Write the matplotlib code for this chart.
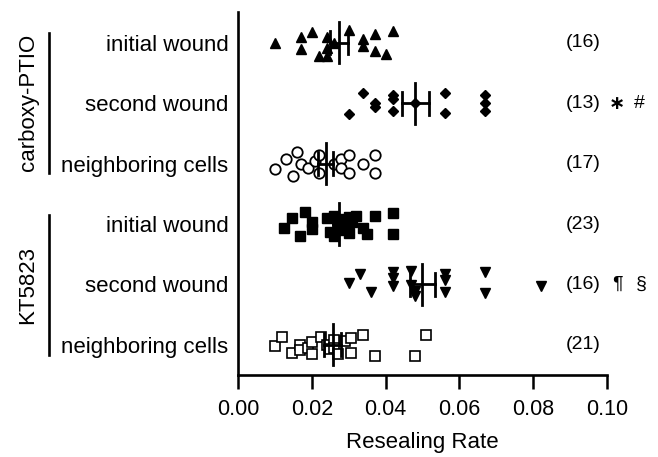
import numpy as np
import matplotlib.pyplot as plt
from matplotlib.transforms import blended_transform_factory

plt.rcParams['font.family'] = ['Liberation Sans', 'DejaVu Sans']

row_labels = ['initial wound', 'second wound', 'neighboring cells',
              'initial wound', 'second wound', 'neighboring cells']
groups = ['carboxy-PTIO', 'KT5823']

# resealing rates, one list per row
cp_initial = [0.010, 0.017, 0.017, 0.020, 0.022, 0.024, 0.024, 0.024,
              0.026, 0.030, 0.034, 0.034, 0.037, 0.037, 0.040, 0.042]
cp_second = [0.030, 0.034, 0.037, 0.037, 0.042, 0.042, 0.042, 0.048,
             0.056, 0.056, 0.067, 0.067, 0.067]
cp_neigh = [0.010, 0.013, 0.015, 0.016, 0.017, 0.019, 0.021, 0.022, 0.022,
            0.026, 0.028, 0.028, 0.030, 0.030, 0.034, 0.037, 0.037]
kt_initial = [0.0125, 0.0146, 0.0167, 0.0182, 0.020, 0.020, 0.024, 0.025,
              0.026, 0.026, 0.027, 0.028, 0.028, 0.029, 0.030, 0.030,
              0.031, 0.032, 0.034, 0.035, 0.037, 0.042, 0.042]
kt_second = [0.030, 0.033, 0.036, 0.042, 0.042, 0.042, 0.047, 0.047,
             0.048, 0.048, 0.056, 0.056, 0.056, 0.067, 0.067, 0.082]
kt_neigh = [0.010, 0.012, 0.0146, 0.0167, 0.0167, 0.019, 0.020, 0.020,
            0.0224, 0.024, 0.025, 0.026, 0.026, 0.027, 0.029, 0.0305,
            0.0305, 0.034, 0.037, 0.048, 0.051]

# vertical scatter of each point (pixels in the original)
cp_initial_j = [0, -6, 6, -11, 13, -6, 5, 13, 0, -13, -4, 3, -9, 8, 11, -12]
cp_second_j = [11, -10, 0, 4, -8, -4, 8, 0, -10, 10, -8, 0, 8]
cp_neigh_j = [5, -5, 12, -12, 0, 4, -3, -9, 9, 0, -5, 4, -9, 9, 0, -9, 9]
kt_initial_j = [4, -6, 12, -12, -2, 5, -6, 8, -8, 12, 0, -5, 6, 2, -7, 9,
                -2, -8, 4, 10, -8, -11, 10]
kt_second_j = [-1, -10, 8, -12, -6, 2, -13, 1, 7, 12, -10, -4, 8, -12, 9, 2]
kt_neigh_j = [1, -8, 8, 0, 5, 3, -3, 9, -8, 0, 4, -5, 3, 9, -4, -7, 8, -10,
              11, 11, -10]

data = [cp_initial, cp_second, cp_neigh, kt_initial, kt_second, kt_neigh]
jitter = [cp_initial_j, cp_second_j, cp_neigh_j,
          kt_initial_j, kt_second_j, kt_neigh_j]
styles = [dict(marker='^', ms=6.5, mfc='black', mec='black'),
          dict(marker='D', ms=5, mfc='black', mec='black'),
          dict(marker='o', ms=7.5, mfc='white', mec='black', mew=1.3),
          dict(marker='s', ms=7, mfc='black', mec='black'),
          dict(marker='v', ms=6.5, mfc='black', mec='black'),
          dict(marker='s', ms=7, mfc='white', mec='black', mew=1.2)]

fig = plt.figure(figsize=(6.58, 4.57), dpi=100)
ax = fig.add_axes([238 / 658, 1 - 375 / 457, 369 / 658, 363 / 457])

row_px = 60.4
for i, (vals, jit, st) in enumerate(zip(data, jitter, styles)):
    vals = np.array(vals)
    y = i + np.array(jit) / row_px
    ax.plot(vals, y, ls='none', zorder=3, **st)
    m = vals.mean()
    sem = vals.std(ddof=1) / np.sqrt(len(vals))
    ax.plot([m, m], [i - 0.34, i + 0.34], color='black', lw=2, zorder=4)
    ax.plot([m - sem, m + sem], [i, i], color='black', lw=2, zorder=4)
    for e in (m - sem, m + sem):
        ax.plot([e, e], [i - 0.19, i + 0.19], color='black', lw=2, zorder=4)
    ax.text(0.0935, i, '(%d)' % len(vals), ha='center', va='center',
            fontsize=14, clip_on=False)

ax.text(0.1027, 1, '\u2217', ha='center', va='center', fontsize=14,
        fontweight='bold', family='DejaVu Sans', clip_on=False)
ax.text(0.1088, 1, '#', ha='center', va='center', fontsize=14, clip_on=False)
ax.text(0.1027, 4, '¶', ha='center', va='center', fontsize=14, clip_on=False)
ax.text(0.1093, 4, '§', ha='center', va='center', fontsize=14, clip_on=False)

ax.set_xlim(0, 0.1)
ax.set_ylim(5.5, -0.51)
ax.set_xticks(np.arange(0, 0.101, 0.02))
ax.set_xticklabels(['%.2f' % t for t in np.arange(0, 0.101, 0.02)])
ax.set_yticks(range(6))
ax.set_yticklabels(row_labels)
ax.tick_params(axis='y', length=0, pad=7, labelsize=16)
ax.tick_params(axis='x', direction='out', length=10, width=1.8, pad=7,
               labelsize=15.5)
ax.set_xlabel('Resealing Rate', fontsize=16, labelpad=9)
for s in ('top', 'right'):
    ax.spines[s].set_visible(False)
for s in ('left', 'bottom'):
    ax.spines[s].set_linewidth(1.9)

tr = blended_transform_factory(fig.transFigure, ax.transData)
for name, lo, hi in [(groups[0], -0.166, 2.15), (groups[1], 2.85, 5.17)]:
    ax.plot([49 / 658, 49 / 658], [lo, hi], color='black', lw=1.9,
            transform=tr, clip_on=False)
    ax.text(28 / 658, (lo + hi) / 2, name, rotation=90, ha='center',
            va='center', fontsize=16, transform=tr)

fig.savefig('out.png', dpi=100)
